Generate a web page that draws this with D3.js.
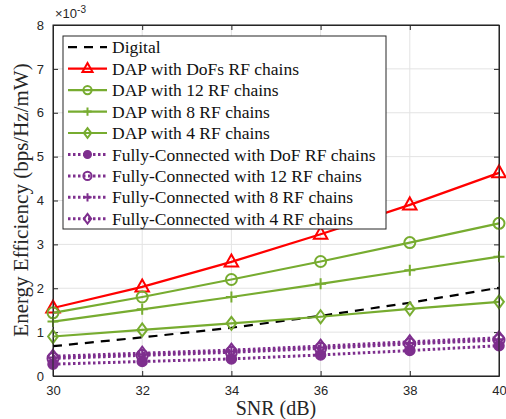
<!DOCTYPE html>
<html lang="en">
<head>
<meta charset="UTF-8">
<title>Energy Efficiency vs SNR</title>
<script src="https://cdnjs.cloudflare.com/ajax/libs/d3/7.8.5/d3.min.js"></script>
<style>
    body { margin: 0; background: #fff; }
    svg { display: block; }
    .tick text { font-family: Helvetica, Arial, "Liberation Sans", sans-serif; font-size: 13px; fill: #262626; }
</style>
</head>
<body>
<div id="chart"></div>
<script>
// SNR values (dB)
const snr = [30, 32, 34, 36, 38, 40];
const xTicks = [30, 32, 34, 36, 38, 40];
const yTicks = [0, 1, 2, 3, 4, 5, 6, 7, 8];

// energy efficiency, units of 1e-3 bps/Hz/mW
const digital   = [0.68, 0.88, 1.10, 1.37, 1.67, 2.01];
const dapDoF    = [1.55, 2.03, 2.60, 3.23, 3.90, 4.63];
const dap12     = [1.44, 1.80, 2.20, 2.61, 3.04, 3.48];
const dap8      = [1.24, 1.52, 1.80, 2.10, 2.41, 2.72];
const dap4      = [0.90, 1.05, 1.20, 1.35, 1.53, 1.69];
const fcDoF     = [0.27, 0.33, 0.39, 0.48, 0.58, 0.69];
const fc12      = [0.40, 0.47, 0.54, 0.63, 0.73, 0.82];
const fc8       = [0.42, 0.49, 0.56, 0.65, 0.75, 0.84];
const fc4       = [0.45, 0.52, 0.59, 0.68, 0.78, 0.87];

const seriesNames = [
    "Digital",
    "DAP with DoFs RF chains",
    "DAP with 12 RF chains",
    "DAP with 8 RF chains",
    "DAP with 4 RF chains",
    "Fully-Connected with DoF RF chains",
    "Fully-Connected with 12 RF chains",
    "Fully-Connected with 8 RF chains",
    "Fully-Connected with 4 RF chains"
];

const serif = "'Liberation Serif', 'DejaVu Serif', serif";
const red = "#ff0000", green = "#77ac30", purple = "#7e2f8e";
const series = [
    { name: seriesNames[0], values: digital, color: "#000", dash: "9,7", marker: null },
    { name: seriesNames[1], values: dapDoF, color: red, dash: null, marker: "triangle" },
    { name: seriesNames[2], values: dap12, color: green, dash: null, marker: "circle" },
    { name: seriesNames[3], values: dap8, color: green, dash: null, marker: "plus" },
    { name: seriesNames[4], values: dap4, color: green, dash: null, marker: "diamond" },
    { name: seriesNames[5], values: fcDoF, color: purple, dash: "2.5,2.5", marker: "dot", thick: 3 },
    { name: seriesNames[6], values: fc12, color: purple, dash: "2.5,2.5", marker: "circle", thick: 3 },
    { name: seriesNames[7], values: fc8, color: purple, dash: "2.5,2.5", marker: "plus", thick: 3 },
    { name: seriesNames[8], values: fc4, color: purple, dash: "2.5,2.5", marker: "diamond", thick: 3 }
];

const W = 506, H = 419;
const margin = { top: 25, right: 7, bottom: 43, left: 53 };
const w = W - margin.left - margin.right;
const h = H - margin.top - margin.bottom;

const svg = d3.select("#chart").append("svg").attr("width", W).attr("height", H);
const g = svg.append("g").attr("transform", `translate(${margin.left},${margin.top})`);

const x = d3.scaleLinear().domain([30, 40]).range([0, w]);
const y = d3.scaleLinear().domain([0, 8]).range([h, 0]);

// grid
g.append("g").selectAll("line").data(xTicks).join("line")
    .attr("x1", d => x(d)).attr("x2", d => x(d)).attr("y1", 0).attr("y2", h)
    .attr("stroke", "#e3e3e3").attr("stroke-width", 1);
g.append("g").selectAll("line").data(yTicks).join("line")
    .attr("x1", 0).attr("x2", w).attr("y1", d => y(d)).attr("y2", d => y(d))
    .attr("stroke", "#e3e3e3").attr("stroke-width", 1);

// axes (ticks inward)
const axStyle = sel => {
    sel.select(".domain").attr("stroke", "#262626");
    sel.selectAll(".tick line").attr("stroke", "#262626");
};
g.append("g").attr("transform", `translate(0,${h})`)
    .call(d3.axisBottom(x).tickValues(xTicks).tickSizeInner(-5).tickSizeOuter(0).tickPadding(10))
    .call(axStyle);
g.append("g")
    .call(d3.axisLeft(y).tickValues(yTicks).tickSizeInner(-5).tickSizeOuter(0).tickPadding(9))
    .call(axStyle);
g.append("g")
    .call(d3.axisTop(x).tickValues(xTicks).tickSizeInner(-5).tickSizeOuter(0).tickFormat(""))
    .call(axStyle);
g.append("g").attr("transform", `translate(${w},0)`)
    .call(d3.axisRight(y).tickValues(yTicks).tickSizeInner(-5).tickSizeOuter(0).tickFormat(""))
    .call(axStyle);

// markers
function drawMarker(sel, type, color, cx, cy, scale) {
    const s = scale || 1;
    if (type === "triangle") {
        const r = 7.5 * s;
        sel.append("path")
            .attr("d", `M${cx},${cy - r} L${cx + r * 0.9},${cy + r * 0.6} L${cx - r * 0.9},${cy + r * 0.6} Z`)
            .attr("fill", "none").attr("stroke", color).attr("stroke-width", 2);
    } else if (type === "circle") {
        sel.append("circle").attr("cx", cx).attr("cy", cy).attr("r", 5.5 * s)
            .attr("fill", "none").attr("stroke", color).attr("stroke-width", 2);
    } else if (type === "dot") {
        sel.append("circle").attr("cx", cx).attr("cy", cy).attr("r", 5 * s)
            .attr("fill", color).attr("stroke", color).attr("stroke-width", 1.5);
    } else if (type === "plus") {
        const r = 5.5 * s;
        sel.append("path").attr("d", `M${cx - r},${cy} H${cx + r} M${cx},${cy - r} V${cy + r}`)
            .attr("stroke", color).attr("stroke-width", 2);
    } else if (type === "diamond") {
        const r = 6.5 * s;
        sel.append("path")
            .attr("d", `M${cx},${cy - r} L${cx + r * 0.75},${cy} L${cx},${cy + r} L${cx - r * 0.75},${cy} Z`)
            .attr("fill", "none").attr("stroke", color).attr("stroke-width", 2);
    }
}

const line = d3.line().x((d, i) => x(snr[i])).y(d => y(d));

series.forEach(s => {
    const lg = g.append("g");
    lg.append("path").datum(s.values).attr("d", line)
        .attr("fill", "none").attr("stroke", s.color)
        .attr("stroke-width", s.thick || 2.2)
        .attr("stroke-dasharray", s.dash);
    if (s.marker) {
        s.values.forEach((v, i) => drawMarker(lg, s.marker, s.color, x(snr[i]), y(v)));
    }
});

// frame on top
g.append("rect").attr("width", w).attr("height", h)
    .attr("fill", "none").attr("stroke", "#262626").attr("stroke-width", 1);

// exponent label
const ex = svg.append("text").attr("x", margin.left + 2).attr("y", 18)
    .style("font-family", "Helvetica, Arial, 'Liberation Sans', sans-serif")
    .style("font-size", "13px").style("fill", "#262626");
ex.append("tspan").text("\u00d710");
ex.append("tspan").attr("dy", -5).style("font-size", "10px").text("-3");

// axis labels
svg.append("text")
    .attr("x", margin.left + w / 2).attr("y", 415)
    .attr("text-anchor", "middle")
    .style("font-family", serif).style("font-size", "20px").style("fill", "#262626")
    .text("SNR (dB)");
svg.append("text")
    .attr("transform", `translate(28,200) rotate(-90)`)
    .attr("text-anchor", "middle")
    .style("font-family", serif).style("font-size", "21px").style("fill", "#262626")
    .text("Energy Efficiency (bps/Hz/mW)");

// legend
const lx = 63, ly = 36, lw = 323, lh = 193, rowH = lh / series.length;
const legend = svg.append("g");
legend.append("rect").attr("x", lx).attr("y", ly).attr("width", lw).attr("height", lh)
    .attr("fill", "#fff").attr("stroke", "#262626").attr("stroke-width", 1);
series.forEach((s, i) => {
    const cy = ly + rowH * (i + 0.5) + 0.5;
    legend.append("line").attr("x1", lx + 5).attr("x2", lx + 44).attr("y1", cy).attr("y2", cy)
        .attr("stroke", s.color).attr("stroke-width", s.thick || 2.2)
        .attr("stroke-dasharray", s.marker ? s.dash : "9,7");
    if (s.marker) drawMarker(legend, s.marker, s.color, lx + 24.5, cy, 0.75);
    legend.append("text")
        .attr("x", lx + 49).attr("y", cy).attr("dy", "0.35em")
        .style("font-family", serif).style("font-size", "17.5px").style("fill", "#111")
        .text(s.name);
});
</script>
</body>
</html>
